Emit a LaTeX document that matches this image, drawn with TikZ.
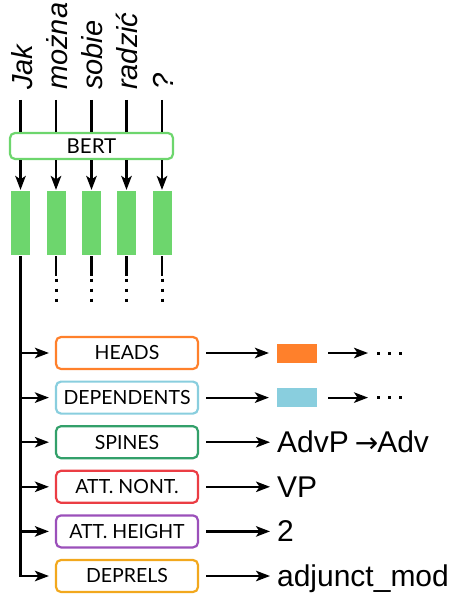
\documentclass[tikz,border=0pt]{standalone}
\usepackage{fontspec}
\setmainfont{Liberation Sans}
\newfontfamily\lato{Lato}
\newfontfamily\dejavu{DejaVu Sans}
\usepackage{tikz}
\usetikzlibrary{arrows.meta}

\definecolor{bertgreen}{HTML}{6DD66D}
\definecolor{headcol}{HTML}{FF802B}
\definecolor{depcol}{HTML}{89CEDE}
\definecolor{spinecol}{HTML}{33A06A}
\definecolor{nontcol}{HTML}{EB3D44}
\definecolor{heightcol}{HTML}{9B50BA}
\definecolor{relcol}{HTML}{F2A81D}

\begin{document}
\begin{tikzpicture}[x=1pt,y=-1pt,line width=2.2pt,
  >={Stealth[length=14pt,width=10.5pt,inset=3.5pt]},
  word/.style={rotate=90,anchor=base west,inner sep=0pt,
    font=\fontsize{29}{29}\selectfont\itshape},
  enc/.style={draw=bertgreen,fill=white,rounded corners=5pt,minimum width=163pt,
    minimum height=26pt,inner sep=0pt,font=\lato\fontsize{20.5}{20.5}\selectfont},
  vec/.style={fill=bertgreen,minimum width=19pt,minimum height=64pt,inner sep=0pt},
  task/.style={draw=#1,rounded corners=5pt,minimum width=142pt,minimum height=32pt,
    inner sep=0pt,font=\lato\fontsize{19.5}{19.5}\selectfont},
  emb/.style={fill=#1,minimum width=40pt,minimum height=19pt,inner sep=0pt},
  res/.style={anchor=base west,inner sep=0pt,font=\fontsize{30}{30}\selectfont},
  vdots/.style={dash pattern=on 3pt off 7pt,line width=3pt},
  hdots/.style={dash pattern=on 3pt off 8pt,line width=3pt}]
\useasboundingbox (0,0) rectangle (451,596);

% input tokens
\node[word] (w1) at (32,91) {Jak};
\node[word] (w2) at (67,91) {można};
\node[word] (w3) at (102.5,91) {sobie};
\node[word] (w4) at (137.5,91) {radzić};
\node[word] (w5) at (173,91) {?};

% token vectors
\node[vec] (v1) at (20.5,223) {};
\node[vec] (v2) at (56,223) {};
\node[vec] (v3) at (91.5,223) {};
\node[vec] (v4) at (126.5,223) {};
\node[vec] (v5) at (162,223) {};

% encoder
\node[enc] (bert) at (91.5,146) {BERT};
\draw[shorten <=9pt] (v1 |- w1.base west) -- (v1 |- bert.north);
\draw[shorten <=9pt] (v2 |- w2.base west) -- (v2 |- bert.north);
\draw[shorten <=9pt] (v3 |- w3.base west) -- (v3 |- bert.north);
\draw[shorten <=9pt] (v4 |- w4.base west) -- (v4 |- bert.north);
\draw[shorten <=9pt] (v5 |- w5.base west) -- (v5 |- bert.north);
\draw[->] (v1 |- bert.south) -- (v1.north);
\draw[->] (v2 |- bert.south) -- (v2.north);
\draw[->] (v3 |- bert.south) -- (v3.north);
\draw[->] (v4 |- bert.south) -- (v4.north);
\draw[->] (v5 |- bert.south) -- (v5.north);

% other tokens left out
\draw (v2.south) -- ([yshift=-20pt]v2.south) coordinate (c2);
\draw (v3.south) -- ([yshift=-20pt]v3.south) coordinate (c3);
\draw (v4.south) -- ([yshift=-20pt]v4.south) coordinate (c4);
\draw (v5.south) -- ([yshift=-20pt]v5.south) coordinate (c5);
\draw[vdots] ([yshift=-2.5pt]c2) -- ++(0,23);
\draw[vdots] ([yshift=-2.5pt]c3) -- ++(0,23);
\draw[vdots] ([yshift=-2.5pt]c4) -- ++(0,23);
\draw[vdots] ([yshift=-2.5pt]c5) -- ++(0,23);

% task heads
\node[task=headcol] (heads) at (127,353) {HEADS};
\node[task=depcol] (deps) at (127,397.6) {DEPENDENTS};
\node[task=spinecol] (spines) at (127,442.2) {SPINES};
\node[task=nontcol] (nont) at (127,486.8) {ATT. NONT.};
\node[task=heightcol] (height) at (127,531.4) {ATT. HEIGHT};
\node[task=relcol] (deprels) at (127,576) {DEPRELS};

\draw[->,shorten >=6pt] (v1.south) |- (deprels.west);
\draw[->,shorten >=6pt] (v1 |- heads.west) -- (heads.west);
\draw[->,shorten >=6pt] (v1 |- deps.west) -- (deps.west);
\draw[->,shorten >=6pt] (v1 |- spines.west) -- (spines.west);
\draw[->,shorten >=6pt] (v1 |- nont.west) -- (nont.west);
\draw[->,shorten >=6pt] (v1 |- height.west) -- (height.west);

% outputs
\node[emb=headcol] (hemb) at (297,353) {};
\node[emb=depcol] (demb) at (297,397.6) {};
\coordinate (hmore) at (377,353);
\coordinate (dmore) at (377,397.6);
\draw[hdots] (hmore) -- ++(25,0);
\draw[hdots] (dmore) -- ++(25,0);
\node[res] (sres) at (276,452.6) {AdvP\hspace{6pt}{\dejavu\fontsize{28}{28}\selectfont →}\hspace{-1pt}Adv};
\node[res] (nres) at (276,497.2) {VP};
\node[res] (hres) at (276,541.8) {2};
\node[res] (rres) at (276,586.4) {adjunct\_mod};

\draw[->,shorten <=7pt,shorten >=7pt] (heads.east) -- (hemb.west);
\draw[->,shorten <=7pt,shorten >=7pt] (deps.east) -- (demb.west);
\draw[->,shorten <=10pt,shorten >=9pt] (hemb.east) -- (hmore);
\draw[->,shorten <=10pt,shorten >=9pt] (demb.east) -- (dmore);
\draw[->,shorten <=7pt,shorten >=6pt] (spines.east) -- (spines.east -| sres.west);
\draw[->,shorten <=7pt,shorten >=6pt] (nont.east) -- (nont.east -| nres.west);
\draw[->,shorten <=7pt,shorten >=6pt] (height.east) -- (height.east -| hres.west);
\draw[->,shorten <=7pt,shorten >=6pt] (deprels.east) -- (deprels.east -| rres.west);
\end{tikzpicture}
\end{document}
